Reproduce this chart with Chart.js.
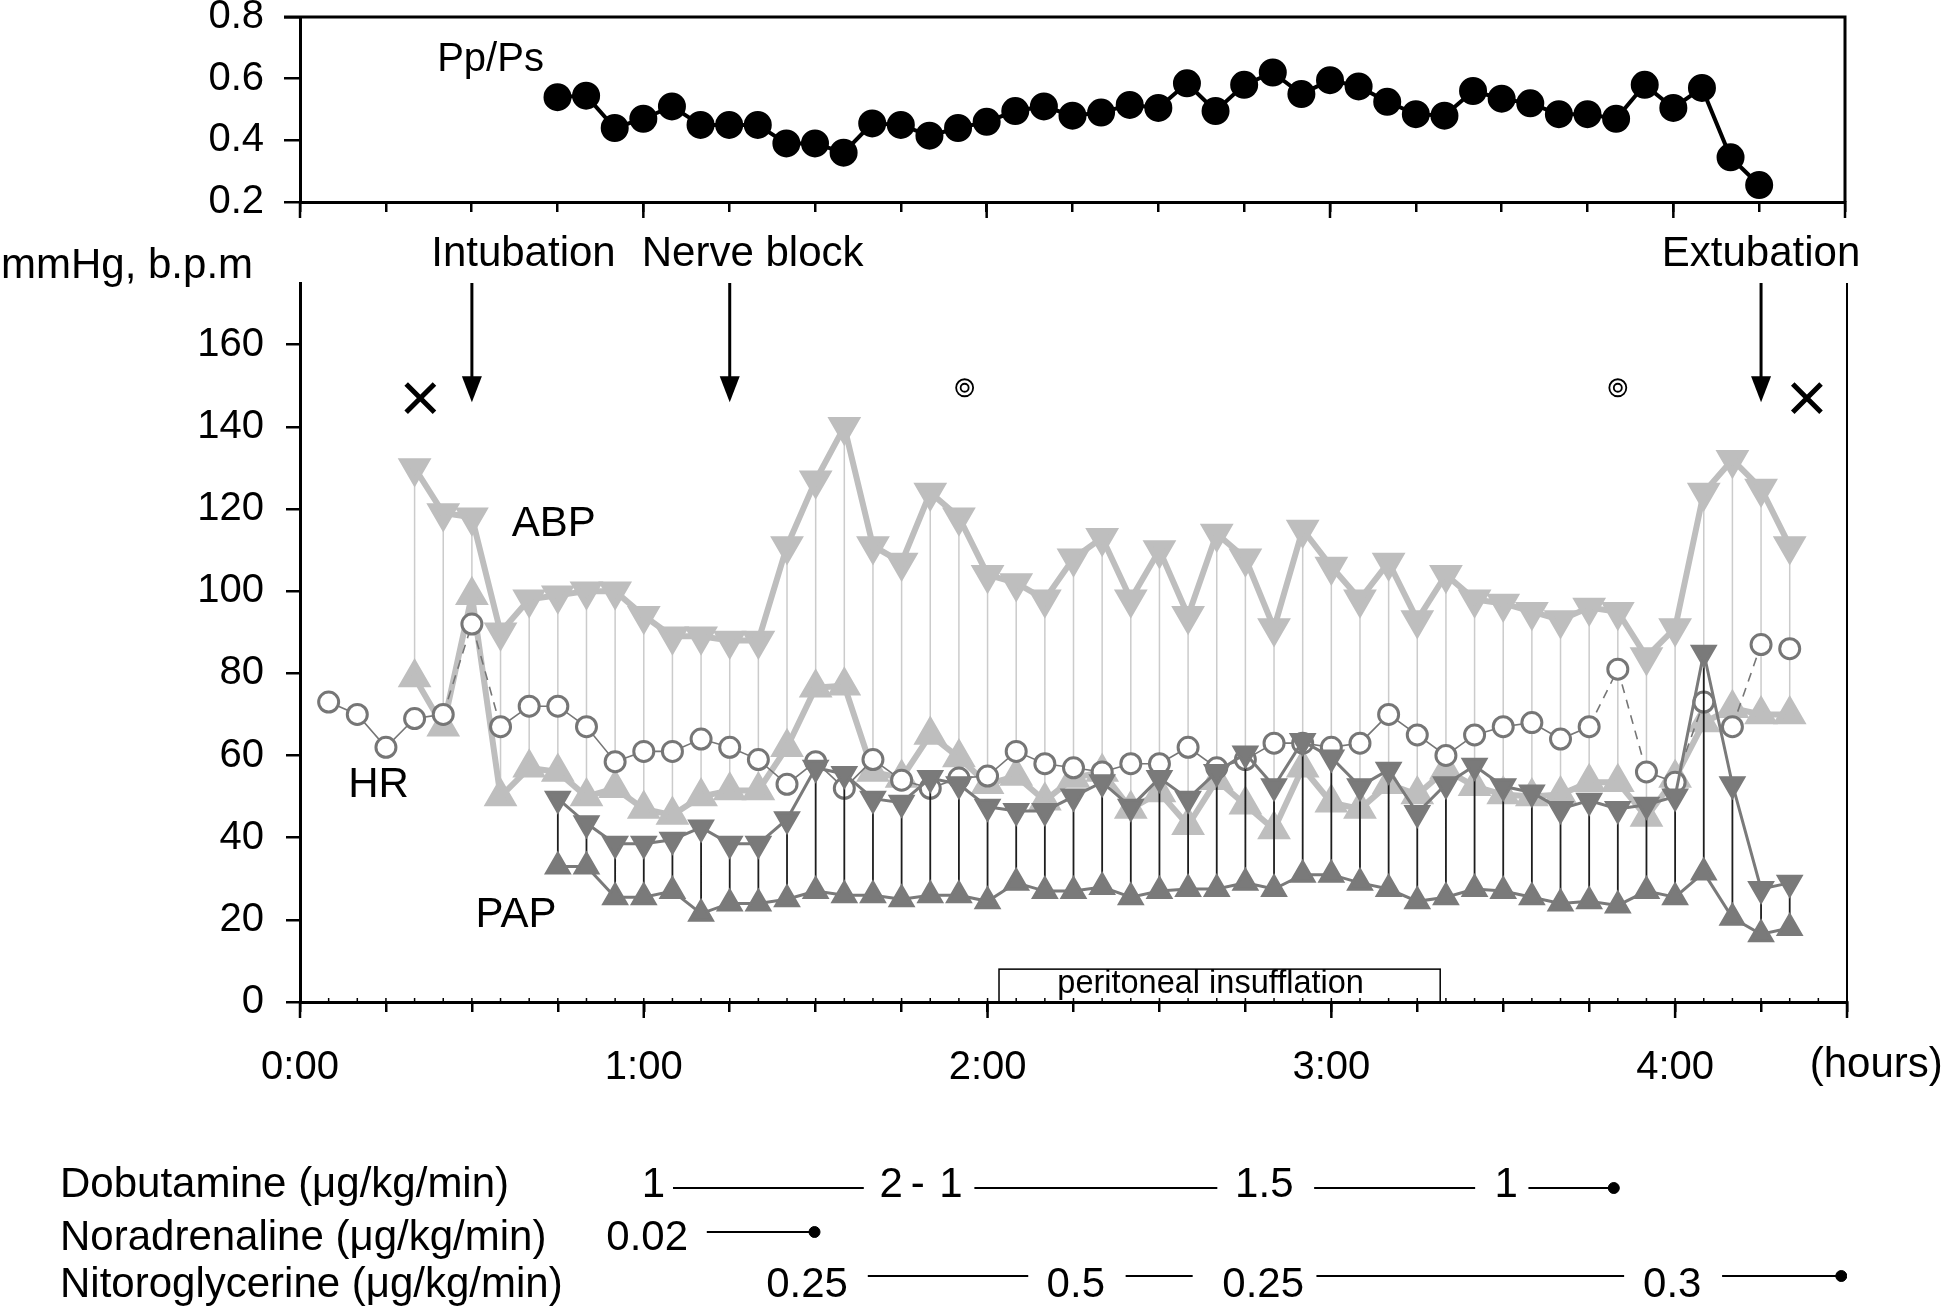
<!DOCTYPE html>
<html>
<head>
<meta charset="utf-8">
<title>Pp/Ps, ABP, PAP, HR</title>
<script src="https://cdn.jsdelivr.net/npm/chart.js@4.4.1/dist/chart.umd.min.js"></script>
<style>
  html, body { margin: 0; padding: 0; background: #fff; overflow: hidden; }
  body { width: 1944px; height: 1309px; position: relative; }
  canvas { position: absolute; left: 0; }
</style>
</head>
<body>
<canvas id="ratio" width="1944" height="225" style="top:0;width:1944px;height:225px"></canvas>
<canvas id="pressure" width="1944" height="900" style="top:225px;width:1944px;height:900px"></canvas>
<canvas id="drugs" width="1944" height="184" style="top:1125px;width:1944px;height:184px"></canvas>
<script>
var FONT = "'Liberation Sans', Arial, Helvetica, sans-serif";
Chart.defaults.font.family = FONT;
Chart.defaults.color = '#000';
Chart.defaults.animation = false;

// time axis, minutes from start
var timeTicks = [0, 15, 30, 45, 60, 75, 90, 105, 120, 135, 150, 165, 180, 195, 210, 225, 240, 255, 270];
var hourTicks = [0, 60, 120, 180, 240];
var hourLabels = ['0:00', '1:00', '2:00', '3:00', '4:00'];

// Pp/Ps (top panel)
var ppTimes = [45, 50, 55, 60, 65, 70, 75, 80, 85, 90, 95, 100, 105, 110, 115, 120, 125, 130, 135, 140, 145, 150,
  155, 160, 165, 170, 175, 180, 185, 190, 195, 200, 205, 210, 215, 220, 225, 230, 235, 240, 245, 250, 255];
var ppValues = [0.54, 0.545, 0.44, 0.47, 0.51, 0.45, 0.45, 0.45, 0.39, 0.39, 0.36, 0.455, 0.45, 0.415, 0.44, 0.46,
  0.495, 0.51, 0.48, 0.49, 0.515, 0.505, 0.585, 0.495, 0.58, 0.62, 0.55, 0.595, 0.575, 0.525, 0.485, 0.48, 0.56,
  0.535, 0.52, 0.485, 0.485, 0.47, 0.58, 0.505, 0.57, 0.345, 0.255];
var ppTicks = [0.2, 0.4, 0.6, 0.8];
var ppTickLabels = ['0.2', '0.4', '0.6', '0.8'];

// arterial blood pressure
var abpTimes = [20, 25, 30, 35, 40, 45, 50, 55, 60, 65, 70, 75, 80, 85, 90, 95, 100, 105, 110, 115, 120, 125, 130,
  135, 140, 145, 150, 155, 160, 165, 170, 175, 180, 185, 190, 195, 200, 205, 210, 215, 220, 225, 230, 235, 240, 245,
  250, 255, 260];
var abpSys = [130, 119, 118, 90, 98, 99, 100, 100, 94, 89, 89, 88, 88, 111, 127, 140, 111, 107, 124, 118,
  104, 102, 98, 108, 113, 98, 110, 94, 114, 108,
  91, 115, 106, 98, 107, 93, 104, 98, 97, 95,
  93, 96, 95, 84, 91, 124, 132, 125, 111];
var abpDia = [79, 67, 99, 50, 57, 56, 50, 52, 47, 45.5, 50, 51.5, 51.5, 62, 76.5, 77, 56, 54.5, 65, 59.5,
  53, 55, 49, 54.5, 56, 47, 51, 43, 54, 48,
  42, 57, 48.5, 47, 53, 50.5, 56.5, 52.5, 50.5, 50,
  50.5, 53.5, 53.5, 45, 54.5, 68, 71.5, 70, 70];

// pulmonary artery pressure
var papTimes = [45, 50, 55, 60, 65, 70, 75, 80, 85, 90, 95, 100, 105, 110, 115, 120, 125, 130, 135, 140, 145, 150,
  155, 160, 165, 170, 175, 180, 185, 190, 195, 200, 205, 210, 215, 220, 225, 230, 235, 240, 245, 250, 255, 260];
var papSys = [49.5, 43.5, 38.5, 38.5, 39.5, 42.5, 38.5, 38.5, 44.5, 57, 55.5, 49.5, 48.5, 54.5, 53,
  47.5, 46.5, 46.5, 50, 53.5, 47.5, 54.5, 49.5, 56, 60.5,
  52.5, 63.5, 59.5, 52.5, 56.5, 46, 53, 57.5, 52.5, 51,
  47, 49, 47, 48, 50, 85, 53, 27.5, 29];
var papDia = [33, 33, 25.5, 25.5, 27, 21.5, 24, 24, 25, 27, 26, 26, 25, 26, 26,
  24.5, 29, 27, 27, 28, 25.5, 27, 27.5, 27.5, 29,
  27.5, 31, 31, 29, 27.5, 24.5, 25.5, 27.5, 27, 25.5,
  24, 24.5, 23.5, 27, 25.5, 31.5, 20.5, 16.5, 18];

// heart rate
var hrTimes = [5, 10, 15, 20, 25, 30, 35, 40, 45, 50, 55, 60, 65, 70, 75, 80, 85, 90, 95, 100, 105, 110, 115, 120,
  125, 130, 135, 140, 145, 150, 155, 160, 165, 170, 175, 180, 185, 190, 195, 200, 205, 210, 215, 220, 225, 230,
  235, 240, 245, 250, 255, 260];
var hrValues = [73, 70, 62, 69, 70, 92, 67, 72, 72, 67, 58.5, 61,
  61, 64, 62, 59, 53, 58.5, 52, 59, 54, 52, 54.5, 55,
  61, 58, 57, 56, 58, 58, 62, 57, 59, 63, 63, 62,
  63, 70, 65, 60, 65, 67, 68, 64, 67, 81, 56, 53.5,
  73, 67, 87, 86];
var hrDashedFrom = [25, 30, 225, 230, 240, 250];
var hrNoLineFrom = [245, 255];

var pressureTicks = [0, 20, 40, 60, 80, 100, 120, 140, 160];
var pressureTickLabels = ['0', '20', '40', '60', '80', '100', '120', '140', '160'];

// events and marks
var eventNames = ['Intubation', 'Nerve block', 'Extubation'];
var eventTimes = [30, 75, 255];
var eventLabelTimes = [39, 79, 255];
var crossTimes = [21, 263];
var circleMarkTimes = [116, 230];
var insufflation = [122, 199];

// drugs (bottom rows)
var drugNames = ['Dobutamine (\u03bcg/kg/min)', 'Noradrenaline (\u03bcg/kg/min)', 'Nitoroglycerine (\u03bcg/kg/min)'];
var drugTextLevels = [0.2, 1.41, 2.48];
var dobLabels = ['1', '2', '-', '1', '1.5', '1'];
var dobLabelTimes = [61.7, 103.2, 107.8, 113.6, 168.3, 210.5];
var dobLines = [[65.1, 98.4], [117.7, 160.1], [177, 205.1], [214.4, 229.3]];
var norLabels = ['0.02'];
var norLabelTimes = [60.6];
var norLines = [[71, 89.8]];
var ntgLabels = ['0.25', '0.5', '0.25', '0.3'];
var ntgLabelTimes = [88.5, 135.4, 168.1, 239.5];
var ntgLines = [[99.1, 127.1], [144.1, 155.8], [177.4, 231.1], [248.2, 269]];

var ABP = '#bebebe';
var PAP = '#7a7a7a';
var HRC = '#767676';

function pts(times, vals) {
  return times.map(function (t, i) { return { x: t, y: vals[i] }; });
}
function ranges(times, lo, hi) {
  var out = [];
  times.forEach(function (t, i) { out.push({ x: t, y: lo[i] }, { x: t, y: hi[i] }, { x: t, y: null }); });
  return out;
}
function segs(lines, row) {
  var out = [];
  lines.forEach(function (l) { out.push({ x: l[0], y: row }, { x: l[1], y: row }, { x: l[1], y: null }); });
  return out;
}
function timeAxis(showLabels, height) {
  return {
    type: 'linear', min: 0, max: 270,
    afterBuildTicks: function (s) { s.ticks = timeTicks.map(function (v) { return { value: v }; }); },
    ticks: {
      display: showLabels, autoSkip: false, maxRotation: 0, padding: 32, font: { size: 40 },
      callback: function (v) { var i = hourTicks.indexOf(v); return i < 0 ? '' : hourLabels[i]; }
    },
    grid: { drawOnChartArea: false, drawTicks: true, tickLength: 10, color: '#000', lineWidth: 2.5 },
    border: { color: '#000', width: 3 },
    afterFit: function (s) { s.height = height; s.paddingLeft = 0; s.paddingRight = 0; }
  };
}
function hourTickMarks(ctx, chart) {
  var a = chart.chartArea, x = chart.scales.x;
  ctx.strokeStyle = '#000';
  ctx.lineWidth = 2.5;
  hourTicks.concat([270]).forEach(function (t) {
    var px = x.getPixelForValue(t);
    ctx.beginPath(); ctx.moveTo(px, a.bottom); ctx.lineTo(px, a.bottom + 16); ctx.stroke();
  });
}

// top panel
var ratioDecor = {
  id: 'ratioDecor',
  afterDraw: function (chart) {
    var ctx = chart.ctx, a = chart.chartArea, x = chart.scales.x, y = chart.scales.y;
    ctx.save();
    ctx.strokeStyle = '#000';
    ctx.lineWidth = 3;
    ctx.beginPath(); ctx.moveTo(a.left - 16, a.top); ctx.lineTo(a.right, a.top); ctx.lineTo(a.right, a.bottom); ctx.stroke();
    hourTickMarks(ctx, chart);
    ctx.fillStyle = '#000';
    ctx.font = '40px ' + FONT;
    ctx.textAlign = 'center';
    ctx.textBaseline = 'middle';
    ctx.fillText('Pp/Ps', x.getPixelForValue(33.3), y.getPixelForValue(0.66));
    ctx.restore();
  }
};

new Chart('ratio', {
  type: 'line',
  data: {
    datasets: [{
      label: 'Pp/Ps',
      data: pts(ppTimes, ppValues),
      borderColor: '#000', borderWidth: 4,
      pointRadius: 12, pointBackgroundColor: '#000', pointBorderColor: '#000'
    }]
  },
  options: {
    responsive: false, events: [],
    layout: { autoPadding: false, padding: { left: 0, right: 99, top: 17, bottom: 0 } },
    plugins: { legend: { display: false }, tooltip: { enabled: false } },
    scales: {
      x: timeAxis(false, 23),
      y: {
        min: 0.2, max: 0.8,
        afterBuildTicks: function (s) { s.ticks = ppTicks.map(function (v) { return { value: v }; }); },
        ticks: { padding: 20, font: { size: 40 }, callback: function (v, i) { return ppTickLabels[i]; } },
        grid: { drawOnChartArea: false, tickLength: 16, color: '#000', lineWidth: 2.5 },
        border: { color: '#000', width: 3 },
        afterFit: function (s) { s.width = 300; s.paddingTop = 0; s.paddingBottom = 0; }
      }
    }
  },
  plugins: [ratioDecor]
});

// main panel
function arrow(ctx, px, yTop, yTip) {
  ctx.beginPath(); ctx.moveTo(px, yTop); ctx.lineTo(px, yTip - 20); ctx.stroke();
  ctx.beginPath();
  ctx.moveTo(px, yTip); ctx.lineTo(px - 10, yTip - 26); ctx.lineTo(px + 10, yTip - 26); ctx.closePath();
  ctx.fill();
}

var pressureDecor = {
  id: 'pressureDecor',
  afterDraw: function (chart) {
    var ctx = chart.ctx, a = chart.chartArea, x = chart.scales.x, y = chart.scales.y;
    ctx.save();
    ctx.strokeStyle = '#000';
    ctx.fillStyle = '#000';
    // right frame line
    ctx.lineWidth = 2;
    ctx.beginPath(); ctx.moveTo(a.right, a.top); ctx.lineTo(a.right, a.bottom); ctx.stroke();
    hourTickMarks(ctx, chart);
    // small 5 min marks on the base line
    ctx.lineWidth = 1.5;
    for (var t = 5; t < 270; t += 5) {
      var px = x.getPixelForValue(t);
      ctx.beginPath(); ctx.moveTo(px, a.bottom); ctx.lineTo(px, a.bottom - 4); ctx.stroke();
    }
    // event arrows
    ctx.lineWidth = 3;
    eventTimes.forEach(function (t) { arrow(ctx, x.getPixelForValue(t), y.getPixelForValue(175), y.getPixelForValue(146)); });
    // texts
    ctx.textBaseline = 'middle';
    ctx.font = '42px ' + FONT;
    ctx.textAlign = 'center';
    eventNames.forEach(function (n, i) { ctx.fillText(n, x.getPixelForValue(eventLabelTimes[i]), y.getPixelForValue(182)); });
    ctx.fillText('ABP', x.getPixelForValue(44.3), y.getPixelForValue(116.2));
    ctx.fillText('HR', x.getPixelForValue(13.7), y.getPixelForValue(52.8));
    ctx.fillText('PAP', x.getPixelForValue(37.7), y.getPixelForValue(21));
    ctx.textAlign = 'left';
    ctx.fillText('mmHg, b.p.m', 1, y.getPixelForValue(179));
    ctx.fillText('(hours)', x.getPixelForValue(263.5), y.getPixelForValue(-15.5));
    // peritoneal insufflation
    var bx0 = x.getPixelForValue(insufflation[0]), bx1 = x.getPixelForValue(insufflation[1]);
    ctx.lineWidth = 1.5;
    ctx.strokeRect(bx0, y.getPixelForValue(8), bx1 - bx0, y.getPixelForValue(0) - y.getPixelForValue(8));
    ctx.font = '32.5px ' + FONT;
    ctx.textAlign = 'center';
    ctx.fillText('peritoneal insufflation', (bx0 + bx1) / 2 - 9, y.getPixelForValue(4.4));
    ctx.restore();
  }
};

new Chart('pressure', {
  type: 'line',
  data: {
    datasets: [
      { label: 'ABP range', data: ranges(abpTimes, abpDia, abpSys), borderColor: '#cbcbcb', borderWidth: 1.5,
        pointRadius: 0, spanGaps: false, order: 9 },
      { label: 'ABP systolic', data: pts(abpTimes, abpSys), borderColor: ABP, borderWidth: 6,
        pointStyle: 'triangle', pointRotation: 180, pointRadius: 13.5,
        pointBackgroundColor: ABP, pointBorderColor: ABP, order: 8 },
      { label: 'ABP diastolic', data: pts(abpTimes, abpDia), borderColor: ABP, borderWidth: 6,
        pointStyle: 'triangle', pointRotation: 0, pointRadius: 13.5,
        pointBackgroundColor: ABP, pointBorderColor: ABP, order: 7 },
      { label: 'HR', data: pts(hrTimes, hrValues), borderColor: HRC, borderWidth: 1.6,
        pointStyle: 'circle', pointRadius: 10, pointBorderWidth: 3,
        pointBorderColor: HRC, pointBackgroundColor: '#fff', order: 6,
        segment: {
          borderDash: function (c) { return hrDashedFrom.indexOf(hrTimes[c.p0DataIndex]) >= 0 ? [9, 7] : undefined; },
          borderColor: function (c) { return hrNoLineFrom.indexOf(hrTimes[c.p0DataIndex]) >= 0 ? 'rgba(0,0,0,0)' : undefined; }
        } },
      { label: 'PAP range', data: ranges(papTimes, papDia, papSys), borderColor: '#1e1e1e', borderWidth: 1.8,
        pointRadius: 0, spanGaps: false, order: 5 },
      { label: 'PAP systolic', data: pts(papTimes, papSys), borderColor: PAP, borderWidth: 3,
        pointStyle: 'triangle', pointRotation: 180, pointRadius: 13,
        pointBackgroundColor: PAP, pointBorderColor: PAP, order: 4 },
      { label: 'PAP diastolic', data: pts(papTimes, papDia), borderColor: PAP, borderWidth: 3,
        pointStyle: 'triangle', pointRotation: 0, pointRadius: 13,
        pointBackgroundColor: PAP, pointBorderColor: PAP, order: 3 },
      { label: 'start/end', data: crossTimes.map(function (t) { return { x: t, y: 147 }; }), showLine: false,
        pointStyle: 'crossRot', pointRadius: 20, pointBorderWidth: 5, pointBorderColor: '#000', order: 1 },
      { label: 'mark outer', data: circleMarkTimes.map(function (t) { return { x: t, y: 149.5 }; }), showLine: false,
        pointStyle: 'circle', pointRadius: 8.5, pointBorderWidth: 1.8, pointBorderColor: '#000',
        pointBackgroundColor: '#fff', order: 1 },
      { label: 'mark inner', data: circleMarkTimes.map(function (t) { return { x: t, y: 149.5 }; }), showLine: false,
        pointStyle: 'circle', pointRadius: 4, pointBorderWidth: 1.8, pointBorderColor: '#000',
        pointBackgroundColor: '#fff', order: 0 }
    ]
  },
  options: {
    responsive: false, events: [],
    layout: { autoPadding: false, padding: { left: 0, right: 97, top: 58, bottom: 0 } },
    plugins: { legend: { display: false }, tooltip: { enabled: false } },
    scales: {
      x: timeAxis(true, 123),
      y: {
        min: 0, max: 175,
        afterBuildTicks: function (s) { s.ticks = pressureTicks.map(function (v) { return { value: v }; }); },
        ticks: { padding: 22, font: { size: 40 }, callback: function (v, i) { return pressureTickLabels[i]; } },
        grid: { drawOnChartArea: false, tickLength: 14, color: '#000', lineWidth: 2.5 },
        border: { color: '#000', width: 3 },
        afterFit: function (s) { s.width = 300; s.paddingTop = 0; s.paddingBottom = 0; }
      }
    }
  },
  plugins: [pressureDecor]
});

// drug rows
var drugLabels = [dobLabels, norLabels, ntgLabels];
var drugLabelTimes = [dobLabelTimes, norLabelTimes, ntgLabelTimes];
var drugLines = [dobLines, norLines, ntgLines];

var drugDecor = {
  id: 'drugDecor',
  afterDraw: function (chart) {
    var ctx = chart.ctx, x = chart.scales.x, y = chart.scales.y;
    ctx.save();
    ctx.fillStyle = '#000';
    ctx.font = '42px ' + FONT;
    ctx.textBaseline = 'alphabetic';
    drugNames.forEach(function (name, row) {
      var base = y.getPixelForValue(drugTextLevels[row]);
      ctx.textAlign = 'left';
      ctx.fillText(name, 60, base);
      ctx.textAlign = 'center';
      drugLabels[row].forEach(function (lab, i) { ctx.fillText(lab, x.getPixelForValue(drugLabelTimes[row][i]), base); });
    });
    ctx.restore();
  }
};

var drugSets = drugLines.map(function (lines, row) {
  return { label: drugNames[row], data: segs(lines, row), borderColor: '#000', borderWidth: 2,
    pointRadius: 0, spanGaps: false };
});
drugSets.push({
  label: 'stop',
  data: drugLines.map(function (lines, row) { return { x: lines[lines.length - 1][1], y: row }; }),
  showLine: false, pointStyle: 'circle', pointRadius: 5.5,
  pointBackgroundColor: '#000', pointBorderColor: '#000'
});

new Chart('drugs', {
  type: 'line',
  data: { datasets: drugSets },
  options: {
    responsive: false, events: [],
    layout: { autoPadding: false, padding: { left: 300, right: 97, top: 41, bottom: 11 } },
    plugins: { legend: { display: false }, tooltip: { enabled: false } },
    scales: {
      x: { type: 'linear', min: 0, max: 270, display: false },
      y: { type: 'linear', min: -0.5, max: 2.5, reverse: true, display: false }
    }
  },
  plugins: [drugDecor]
});
</script>
</body>
</html>
